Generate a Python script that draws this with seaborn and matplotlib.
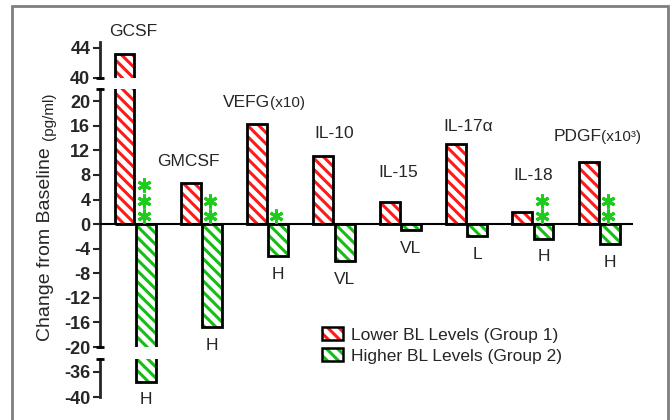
import matplotlib
matplotlib.use('Agg')
import matplotlib.pyplot as plt
import matplotlib.transforms as mtransforms
from matplotlib.patches import Rectangle, Patch
import pandas as pd
import seaborn as sns

# --- data ---
cytokines = ['GCSF', 'GMCSF', 'VEFG', 'IL-10', 'IL-15', 'IL-17α', 'IL-18', 'PDGF']
name_suffix = ['', '', '(x10)', '', '', '', '', '(x10³)']
group1 = [43.2, 6.7, 16.3, 11.1, 3.6, 13.0, 2.0, 10.1]
group2 = [-37.6, -16.8, -5.2, -6.0, -1.0, -2.0, -2.4, -3.3]
group2_level = ['H', 'H', 'H', 'VL', 'VL', 'L', 'H', 'H']
n_stars = [3, 2, 1, 0, 0, 0, 2, 2]
series = ['Lower BL Levels (Group 1)', 'Higher BL Levels (Group 2)']

# label placement (pixels above the red bar top), hand tuned
name_dy = [22, 21, 22, 22, 30, 18, 36, 26]
name_dx = [-2, -13, 0, 0, -2, 2, 0, 0]

RED = '#FF1A1A'
GREEN = '#14BE14'
STAR = '#1ECC1E'

sns.set_style('ticks')
plt.rcParams['font.family'] = ['Liberation Sans', 'DejaVu Sans']
plt.rcParams['hatch.linewidth'] = 2.2

df = pd.DataFrame({
    'cytokine': cytokines * 2,
    'group': [series[0]] * len(cytokines) + [series[1]] * len(cytokines),
    'change': group1 + group2,
})

W, H = 670, 420
fig = plt.figure(figsize=(W / 100, H / 100), dpi=100)

def px_rect(x0, y_top, x1, y_bot):
    return [x0 / W, 1 - y_bot / H, (x1 - x0) / W, (y_bot - y_top) / H]

# broken y axis: three stacked panels
ax_top = fig.add_axes(px_rect(100, 42, 633, 78))
ax_mid = fig.add_axes(px_rect(100, 89, 633, 347))
ax_bot = fig.add_axes(px_rect(100, 359, 633, 397))
panels = [
    (ax_top, (40, 44.8), [40, 44]),
    (ax_mid, (-20, 22), list(range(-20, 21, 4))),
    (ax_bot, (-40, -34), [-40, -36]),
]

for ax, ylim, ticks in panels:
    sns.barplot(data=df, x='cytokine', y='change', hue='group', order=cytokines,
                hue_order=series, palette=['white', 'white'], width=0.64, gap=0.06,
                errorbar=None, legend=False, ax=ax)
    for cont, col in zip(ax.containers, [RED, GREEN]):
        for bar in cont:
            bar.set_hatch('\\\\\\')
            bar.set_edgecolor(col)
            bar.set_linewidth(0)
            ax.add_patch(Rectangle(bar.get_xy(), bar.get_width(), bar.get_height(),
                                   fill=False, ec='black', lw=2, zorder=3))
    ax.set_xlim(-0.53, 7.51)
    ax.set_ylim(*ylim)
    ax.set_yticks(ticks)
    ax.set_yticklabels([str(t) for t in ticks], fontweight='bold', fontsize=13)
    ax.set_xticks([])
    ax.set_xlabel('')
    ax.set_ylabel('')
    for s in ['top', 'right', 'bottom']:
        ax.spines[s].set_visible(False)
    ax.spines['left'].set_linewidth(2)
    ax.tick_params(axis='y', direction='out', length=5, width=1.5, pad=2)
    ax.patch.set_alpha(0)

# break caps on the spine ends
for ax, ys in [(ax_top, [0]), (ax_mid, [0, 1]), (ax_bot, [1])]:
    for yy in ys:
        ax.plot([0], [yy], marker='_', ms=6, mew=2, color='black',
                transform=ax.transAxes, clip_on=False, zorder=5)

ax_mid.axhline(0, color='black', lw=1.5, zorder=4)

def panel_for(v):
    if v > 22:
        return ax_top
    if v < -20:
        return ax_bot
    return ax_mid

green_x = [b.get_x() + b.get_width() / 2 for b in ax_mid.containers[1]]

for i, name in enumerate(cytokines):
    # cytokine name above the red bar
    ax = panel_for(group1[i])
    if name_suffix[i]:
        ax.annotate(name, xy=(i, group1[i]), xytext=(name_dx[i] + 2, name_dy[i]),
                    textcoords='offset pixels', ha='right', va='center', fontsize=12.5,
                    annotation_clip=False)
        ax.annotate(name_suffix[i], xy=(i, group1[i]), xytext=(name_dx[i] + 2, name_dy[i] - 1),
                    textcoords='offset pixels', ha='left', va='center', fontsize=11,
                    annotation_clip=False)
    else:
        ax.annotate(name, xy=(i, group1[i]), xytext=(name_dx[i], name_dy[i]),
                    textcoords='offset pixels', ha='center', va='center', fontsize=12.5,
                    annotation_clip=False)
    # level label below the green bar
    ax = panel_for(group2[i])
    ax.annotate(group2_level[i], xy=(green_x[i], group2[i]), xytext=(0, -18),
                textcoords='offset pixels', ha='center', va='center', fontsize=12.5,
                annotation_clip=False)
    # significance stars
    for k in range(n_stars[i]):
        shift = mtransforms.ScaledTranslation(-0.02, (8 + 15.5 * k) / 100, fig.dpi_scale_trans)
        ax_mid.plot([green_x[i]], [0], marker=(6, 2, 0), ms=10, mew=2.2, color=STAR,
                    transform=ax_mid.transData + shift, clip_on=False, zorder=6)

# y label with the smaller unit part
fig.text(46 / W, 1 - 244 / H, 'Change from Baseline', rotation=90, ha='center', va='center',
         fontsize=14)
fig.text(49 / W, 1 - 116 / H, '(pg/ml)', rotation=90, ha='center', va='center', fontsize=11)

# legend
handles = [(Patch(fc='white', ec=c, hatch='\\\\\\', lw=0), Patch(fill=False, ec='black', lw=1.8))
           for c in [RED, GREEN]]
fig.legend(handles, series, loc='upper left', bbox_to_anchor=(322 / W, 1 - 327 / H),
           frameon=False, fontsize=12.5, handlelength=1.2, handleheight=0.8,
           handletextpad=0.45, labelspacing=0.3, borderpad=0, borderaxespad=0)

# outer grey frame
fig.add_artist(Rectangle((12 / W, -0.1), (668 - 12) / W, 1.1 - 6 / H,
                         transform=fig.transFigure, fill=False, ec='#7F7F7F', lw=2))

plt.savefig('out.png', dpi=100)
